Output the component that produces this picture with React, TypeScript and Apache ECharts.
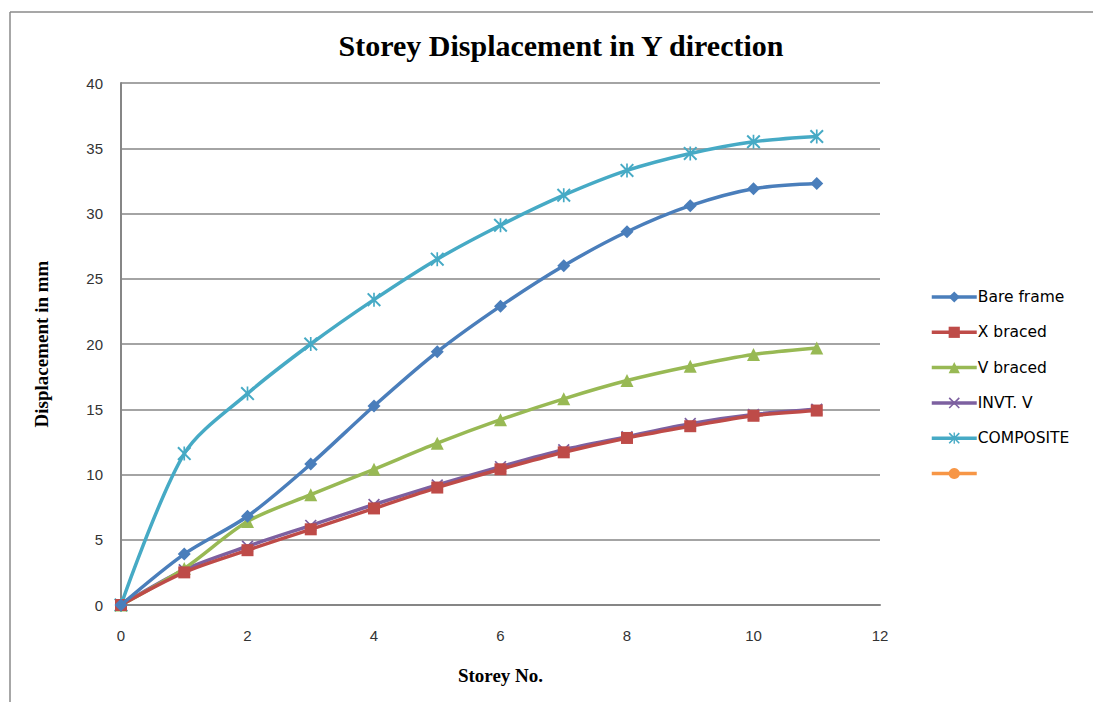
import React, { useEffect, useRef } from "react";
import * as echarts from "echarts";

const storeys = [0, 1, 2, 3, 4, 5, 6, 7, 8, 9, 10, 11];
const bareFrame = [0, 3.9, 6.8, 10.8, 15.25, 19.4, 22.9, 26.0, 28.6, 30.6, 31.9, 32.3];
const xBraced = [0, 2.5, 4.2, 5.8, 7.4, 9.0, 10.4, 11.7, 12.8, 13.7, 14.5, 14.9];
const vBraced = [0, 2.8, 6.4, 8.45, 10.4, 12.4, 14.2, 15.8, 17.2, 18.3, 19.2, 19.7];
const invtV = [0, 2.7, 4.5, 6.1, 7.7, 9.2, 10.6, 11.9, 12.9, 13.9, 14.6, 15.0];
const composite = [0, 11.6, 16.2, 20.0, 23.4, 26.5, 29.1, 31.4, 33.3, 34.6, 35.5, 35.9];

const seriesNames = ["Bare frame", "X braced", "V braced", "INVT. V", "COMPOSITE", " "];
const seriesColors = ["#4A7EBB", "#BE4B48", "#98B954", "#7D60A0", "#46AAC5", "#F79646"];

const xSymbol =
  "path://M0,1 L1,0 L5,4 L9,0 L10,1 L6,5 L10,9 L9,10 L5,6 L1,10 L0,9 L4,5 Z";
const starSymbol =
  "path://M0,1 L1,0 L5,4 L9,0 L10,1 L6,5 L10,9 L9,10 L5,6 L1,10 L0,9 L4,5 Z M4.4,0 L5.6,0 L5.6,10 L4.4,10 Z";

export default function App() {
  const ref = useRef<HTMLDivElement>(null);
  useEffect(() => {
    if (!ref.current) return;
    const chart = echarts.init(ref.current, undefined, { renderer: "svg" });
    const data = [bareFrame, xBraced, vBraced, invtV, composite, []];
    const symbols = ["diamond", "rect", "triangle", xSymbol, starSymbol, "circle"];
    const sizes = [13, 12, 13, 12, 14, 12];
    chart.setOption({
      animation: false,
      backgroundColor: "#ffffff",
      title: {
        text: "Storey Displacement in Y direction",
        left: 556,
        top: 25,
        textAlign: "center",
        textStyle: {
          fontFamily: "Liberation Serif",
          fontWeight: "bold",
          fontSize: 30,
          color: "#000",
        },
      },
      legend: {
        orient: "vertical",
        left: 925,
        top: 284,
        itemWidth: 45,
        itemHeight: 14,
        itemGap: 19.3,
        data: seriesNames,
        lineStyle: { width: 3.5 },
        textStyle: { fontFamily: "DejaVu Sans", fontSize: 15.5, color: "#000", padding: [0, 0, 0, -4] },
      },
      graphic: [
        { type: "line", shape: { x1: 10, y1: 12, x2: 1093, y2: 12 }, style: { stroke: "#8a8a8a", lineWidth: 1.5 } },
        { type: "line", shape: { x1: 10, y1: 12, x2: 10, y2: 702 }, style: { stroke: "#8a8a8a", lineWidth: 1.5 } },
      ],
      grid: { left: 121, right: 213, top: 83, bottom: 97 },
      xAxis: {
        type: "value",
        min: 0,
        max: 12,
        interval: 2,
        name: "Storey No.",
        nameLocation: "middle",
        nameGap: 61,
        nameTextStyle: { fontFamily: "Liberation Serif", fontWeight: "bold", fontSize: 19, color: "#000" },
        axisLine: { show: true, lineStyle: { color: "#868686", width: 2 } },
        axisTick: { show: false },
        splitLine: { show: false },
        axisLabel: { fontFamily: "Liberation Sans", fontSize: 15, color: "#333", margin: 23 },
      },
      yAxis: {
        type: "value",
        min: 0,
        max: 40,
        interval: 5,
        name: "Displacement in mm",
        nameLocation: "middle",
        nameGap: 70,
        nameRotate: 90,
        nameTextStyle: { fontFamily: "Liberation Serif", fontWeight: "bold", fontSize: 19, color: "#000" },
        axisLine: { show: true, lineStyle: { color: "#868686", width: 2 } },
        axisTick: { show: false },
        splitLine: { show: true, lineStyle: { color: "#868686", width: 1.5 } },
        axisLabel: { fontFamily: "Liberation Sans", fontSize: 15, color: "#333", margin: 18 },
      },
      series: seriesNames.map((name, i) => ({
        name,
        type: "line",
        smooth: 0.3,
        data: (data[i] as number[]).map((v, k) => [storeys[k], v]),
        symbol: symbols[i],
        symbolSize: sizes[i],
        color: seriesColors[i],
        lineStyle: { width: 3.5, color: seriesColors[i] },
        itemStyle: { color: seriesColors[i] },
        z: 10 - i,
      })),
    });
    return () => chart.dispose();
  }, []);
  return (
    <div
      ref={ref}
      style={{ position: "fixed", left: 0, top: 0, width: 1093, height: 702 }}
    />
  );
}
